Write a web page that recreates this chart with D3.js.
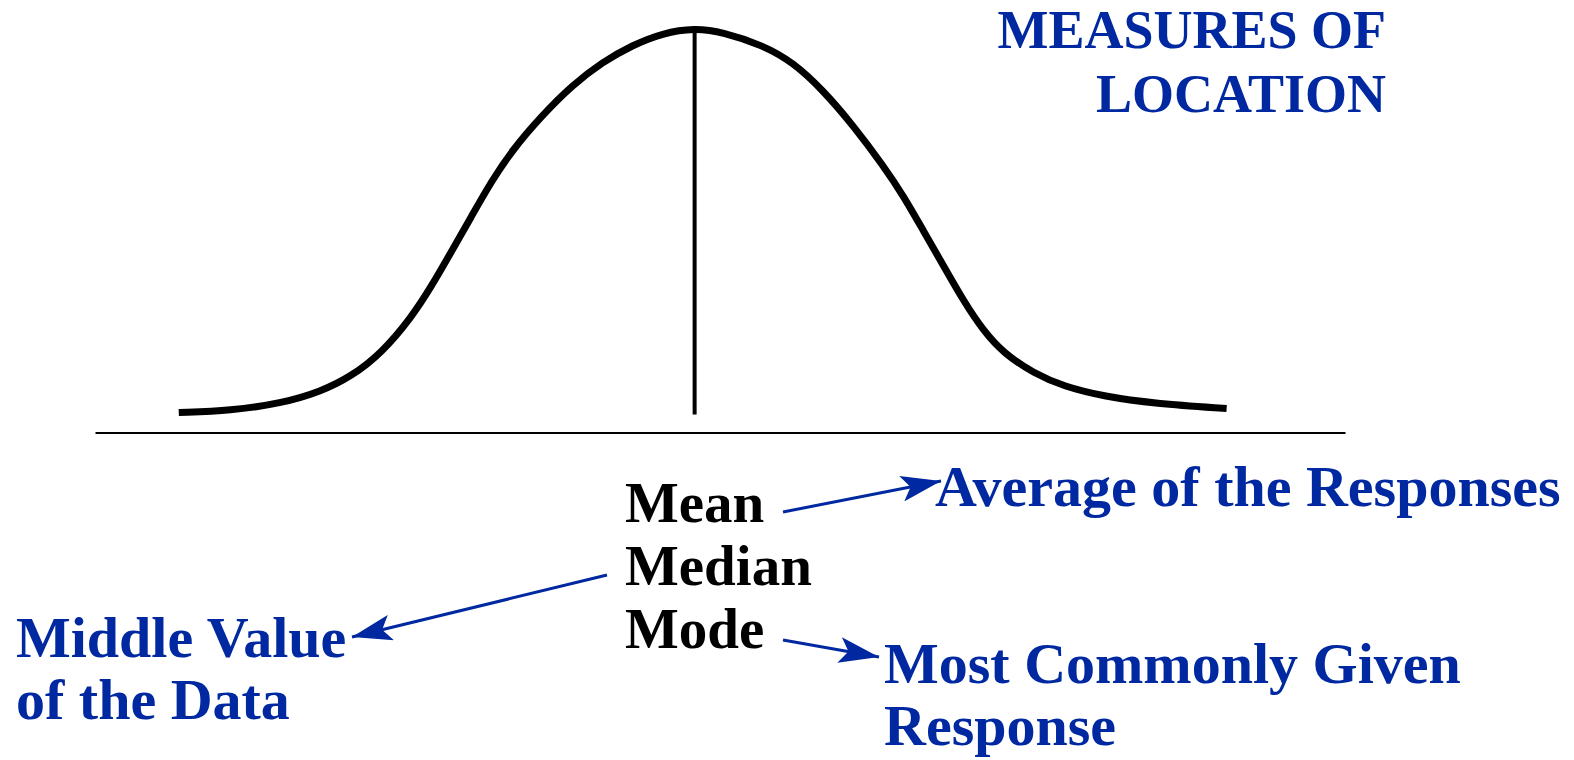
<!DOCTYPE html>
<html>
<head>
<meta charset="utf-8">
<script src="https://cdn.jsdelivr.net/npm/d3@7"></script>
<style>
  html, body { margin: 0; padding: 0; background: #ffffff; }
  svg { display: block; }
</style>
</head>
<body>
<svg id="chart" width="1574" height="760"></svg>
<script>
// ---- Data (x: response value 0-100, y: relative frequency 0-100) ----
const curveX = [6.70, 10.87, 14.89, 18.10, 20.50, 22.91, 25.33, 26.93, 28.54, 30.14, 31.75, 33.35, 35.77, 38.18, 40.58, 42.99, 45.40, 47.97,
                50.22, 53.43, 55.84, 58.25, 60.66, 63.06, 64.67, 66.28, 67.89, 69.49, 71.10, 72.70, 75.11, 77.52, 80.74, 84.75, 90.53];
const curveY = [4.94, 5.44, 7.19, 10.16, 13.89, 19.60, 28.52, 36.21, 44.88, 53.58, 62.26, 69.70, 78.40, 85.84, 91.55, 95.75, 98.74, 100.0,
                98.99, 95.75, 91.55, 84.60, 75.90, 65.99, 58.55, 49.85, 41.18, 32.50, 25.04, 19.60, 14.63, 11.39, 8.92, 7.19, 5.96];
const centreValue = 47.97;          // mean = median = mode
const centreLineBottom = 4.45;      // foot of the centre line (frequency units)

const titleLines = ["MEASURES OF", "LOCATION"];
const measureNames = ["Mean", "Median", "Mode"];
const measureMeanings = [["Average of the Responses"], ["Middle Value", "of the Data"], ["Most Commonly Given", "Response"]];

// ---- Layout ----
const blue = "#0028a0";
const font = "'Liberation Serif', 'Times New Roman', serif";
const svg = d3.select("#chart");
svg.append("rect").attr("width", 1574).attr("height", 760).attr("fill", "#fff");

const x = d3.scaleLinear().domain([0, 100]).range([95, 1345]);
const y = d3.scaleLinear().domain([0, 100]).range([432.6, 28]);

// axis (no ticks)
const axis = d3.axisBottom(x).tickValues([]).tickSizeOuter(0);
svg.append("g").attr("transform", `translate(0,${y(0)})`).call(axis)
  .call(g => g.select(".domain").attr("stroke", "#000").attr("stroke-width", 2));

// centre line
svg.append("line")
  .attr("x1", x(centreValue)).attr("x2", x(centreValue))
  .attr("y1", y(100)).attr("y2", y(centreLineBottom))
  .attr("stroke", "#000").attr("stroke-width", 4);

// bell curve
const pts = curveX.map((v, i) => [v, curveY[i]]);
const line = d3.line().x(d => x(d[0])).y(d => y(d[1])).curve(d3.curveBasis);
svg.append("path").datum(pts).attr("d", line)
  .attr("fill", "none").attr("stroke", "#000").attr("stroke-width", 7)
  .attr("stroke-linejoin", "round");

// title
svg.append("text").attr("font-family", font).attr("font-weight", "bold")
  .attr("font-size", 54).attr("fill", blue).attr("text-anchor", "end")
  .selectAll("tspan").data(titleLines).join("tspan")
  .attr("x", 1386).attr("y", (d, i) => 48 + i * 64).text(d => d);

// measure names
svg.append("g").selectAll("text").data(measureNames).join("text")
  .attr("x", 625).attr("y", (d, i) => 522 + i * 63)
  .attr("font-family", font).attr("font-weight", "bold").attr("font-size", 57)
  .attr("fill", "#000").text(d => d);

// meanings
const meaningPos = [[935, 506], [16, 657], [884, 683]];
measureMeanings.forEach((lines, k) => {
  svg.append("text").attr("font-family", font).attr("font-weight", "bold")
    .attr("font-size", 58).attr("fill", blue)
    .selectAll("tspan").data(lines).join("tspan")
    .attr("x", meaningPos[k][0]).attr("y", (d, i) => meaningPos[k][1] + i * 62).text(d => d);
});

// arrows
const defs = svg.append("defs");
defs.append("marker").attr("id", "head").attr("viewBox", "0 0 40 26")
  .attr("refX", 40).attr("refY", 13).attr("markerWidth", 40).attr("markerHeight", 26)
  .attr("markerUnits", "userSpaceOnUse").attr("orient", "auto")
  .append("path").attr("d", "M0,0 L40,13 L0,26 L9,13 Z").attr("fill", blue);

const arrows = [
  [783, 512, 941, 481],
  [607, 575, 352, 637],
  [783, 640, 879, 657]
];
svg.append("g").selectAll("line").data(arrows).join("line")
  .attr("x1", d => d[0]).attr("y1", d => d[1]).attr("x2", d => d[2]).attr("y2", d => d[3])
  .attr("stroke", blue).attr("stroke-width", 3).attr("marker-end", "url(#head)");
</script>
</body>
</html>
